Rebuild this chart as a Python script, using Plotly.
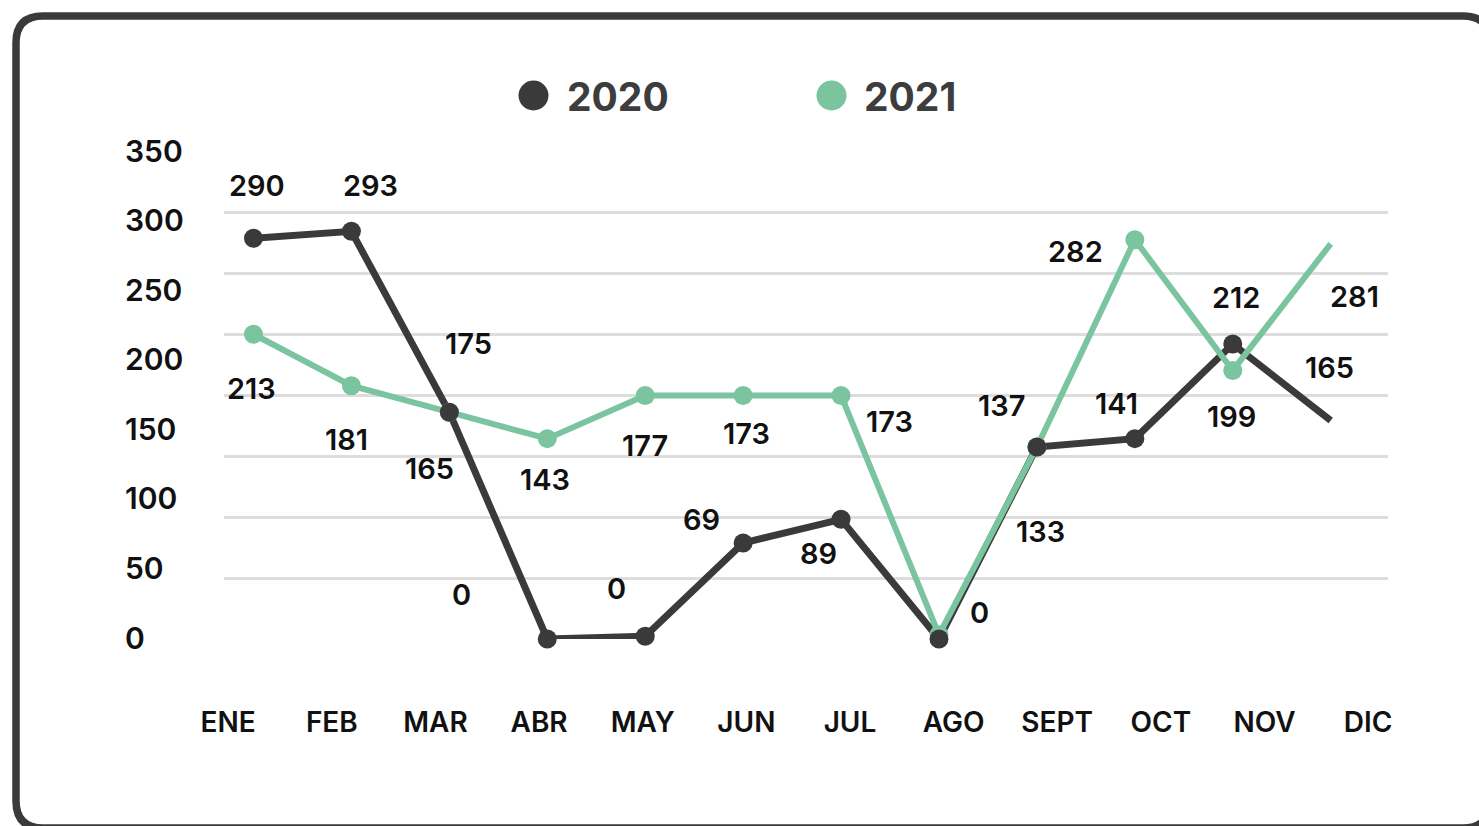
import plotly.graph_objects as go

# ---------------- data ----------------
meses = ["ENE", "FEB", "MAR", "ABR", "MAY", "JUN", "JUL", "AGO", "SEPT", "OCT", "NOV", "DIC"]
series = ["2020", "2021"]
valores_2020 = [288, 293, 163, 0, 2, 69, 86, 0, 138, 144, 212, 157]
valores_2021 = [219, 182, 163, 144, 175, 175, 175, 3, 138, 287, 193, 284]
etiquetas_2020 = ["290", "293", "175", "0", "0", "69", "89", "0", "137", "141", "212", "165"]
etiquetas_2021 = ["213", "181", "165", "143", "177", "173", "173", "", "133", "282", "199", "281"]
ticks_y = [0, 50, 100, 150, 200, 250, 300, 350]

# ---------------- style ----------------
W, H = 1479, 826
L, R, T, B = 224, 1388, 152, 639          # plot area in pixels
OSCURO = "#3a3a3a"
VERDE = "#7ac4a0"
TEXTO = "#111111"
FUENTE = "Inter"

# label offsets in pixels (dx right, dy up)
off_2020 = [(3.5, 52.7), (19.1, 46), (19.6, 68.3), (-85.8, 44.3), (-29.2, 48), (-41.7, 23.2),
            (-22.6, -34), (41, 26.3), (-35.4, 41.7), (-17.9, 35.3), (3.2, 46.5), (-1.2, 53.3)]
off_2021 = [(-1.5, -54), (-4.9, -53.7), (-19.4, -56), (-2.3, -40.7), (-0.2, -50), (3.8, -37.7),
            (48.9, -26.4), (0, 0), (3.1, -84.7), (-58.9, -11.4), (-0.8, -46), (23.3, -53)]


def px(x):
    return (x - L) / (R - L)


def py(y):
    return (B - y) / (B - T)


n = len(meses)
sizes = [19] * (n - 1) + [0]

fig = go.Figure()

# dummy trace for base axes (month labels + gridlines)
fig.add_trace(go.Scatter(x=meses, y=[0] * n, mode="lines", opacity=0,
                         showlegend=False, hoverinfo="skip", xaxis="x", yaxis="y"))

# 2020 line
fig.add_trace(go.Scatter(x=meses, y=valores_2020, mode="lines", name=series[0],
                         line=dict(color=OSCURO, width=7), showlegend=False,
                         cliponaxis=False, xaxis="x2", yaxis="y2"))
# 2021 line + markers
fig.add_trace(go.Scatter(x=meses, y=valores_2021, mode="lines+markers", name=series[1],
                         line=dict(color=VERDE, width=6),
                         marker=dict(color=VERDE, size=sizes, opacity=1, line=dict(width=0)),
                         showlegend=False, cliponaxis=False, xaxis="x2", yaxis="y2"))
# 2020 markers on top
fig.add_trace(go.Scatter(x=meses, y=valores_2020, mode="markers", name=series[0],
                         marker=dict(color=OSCURO, size=sizes, opacity=1, line=dict(width=0)),
                         showlegend=False, cliponaxis=False, xaxis="x2", yaxis="y2"))

annotations = []
for vals, labs, offs in ((valores_2020, etiquetas_2020, off_2020),
                         (valores_2021, etiquetas_2021, off_2021)):
    for m, v, t, (dx, dy) in zip(meses, vals, labs, offs):
        if not t:
            continue
        annotations.append(dict(x=m, y=v, xref="x2", yref="y2", text=t, showarrow=False,
                                xanchor="center", yanchor="middle", xshift=dx, yshift=dy,
                                font=dict(family=FUENTE, size=29, color=TEXTO, weight=600)))

for v in ticks_y:
    annotations.append(dict(x=px(123), y=v, xref="paper", yref="y2", text=str(v),
                            showarrow=False, xanchor="left", yanchor="middle", yshift=1.5,
                            font=dict(family=FUENTE, size=30, color=TEXTO, weight=600)))

# custom legend
leg_pos = [(533.5, 565), (831.5, 862)]
leg_col = [OSCURO, VERDE]
shapes = []
for name, (cx, tx), col in zip(series, leg_pos, leg_col):
    shapes.append(dict(type="circle", xref="paper", yref="paper", xsizemode="pixel",
                       ysizemode="pixel", xanchor=px(cx), yanchor=py(95.5),
                       x0=-15, x1=15, y0=-15, y1=15, fillcolor=col, line=dict(width=0)))
    annotations.append(dict(x=px(tx), y=py(96), xref="paper", yref="paper", text=name,
                            showarrow=False, xanchor="left", yanchor="middle",
                            font=dict(family=FUENTE, size=39, color="#3d3d3d", weight=700)))

# rounded frame
fl, fr, ft, fb, rad = 16, 1490, 16, 828, 27
rx = rad / (R - L)
ry = rad / (B - T)
Lp, Rp, Tp, Bp = px(fl), px(fr), py(ft), py(fb)
path = (f"M {Lp},{Bp + ry} L {Lp},{Tp - ry} Q {Lp},{Tp} {Lp + rx},{Tp} "
        f"L {Rp - rx},{Tp} Q {Rp},{Tp} {Rp},{Tp - ry} L {Rp},{Bp + ry} "
        f"Q {Rp},{Bp} {Rp - rx},{Bp} L {Lp + rx},{Bp} Q {Lp},{Bp} {Lp},{Bp + ry} Z")
shapes.append(dict(type="path", xref="paper", yref="paper", path=path,
                   line=dict(color=OSCURO, width=7.5), fillcolor="rgba(0,0,0,0)", layer="below"))

fig.update_layout(
    width=W, height=H,
    margin=dict(l=L, r=W - R, t=T, b=H - B, pad=0),
    paper_bgcolor="white", plot_bgcolor="white",
    showlegend=False,
    xaxis=dict(type="category", categoryorder="array", categoryarray=meses,
               range=[-0.0405, 11.192], showgrid=False, zeroline=False, showline=False,
               ticks="", ticklabelstandoff=64,
               tickfont=dict(family=FUENTE, size=28, color=TEXTO, weight=600)),
    yaxis=dict(range=[0, 8], dtick=1, tick0=0, showgrid=True, gridcolor="#dddddd",
               gridwidth=3, zeroline=False, showticklabels=False, showline=False, ticks=""),
    xaxis2=dict(type="category", categoryorder="array", categoryarray=meses,
                overlaying="x", anchor="y2", range=[-0.301, 11.585], visible=False),
    yaxis2=dict(overlaying="y", anchor="x2", range=[0, 350], visible=False),
    annotations=annotations,
    shapes=shapes,
)

fig.write_html("out.html", config={"displayModeBar": False},
               post_script="document.body.style.margin='0';document.body.style.overflow='hidden';")
